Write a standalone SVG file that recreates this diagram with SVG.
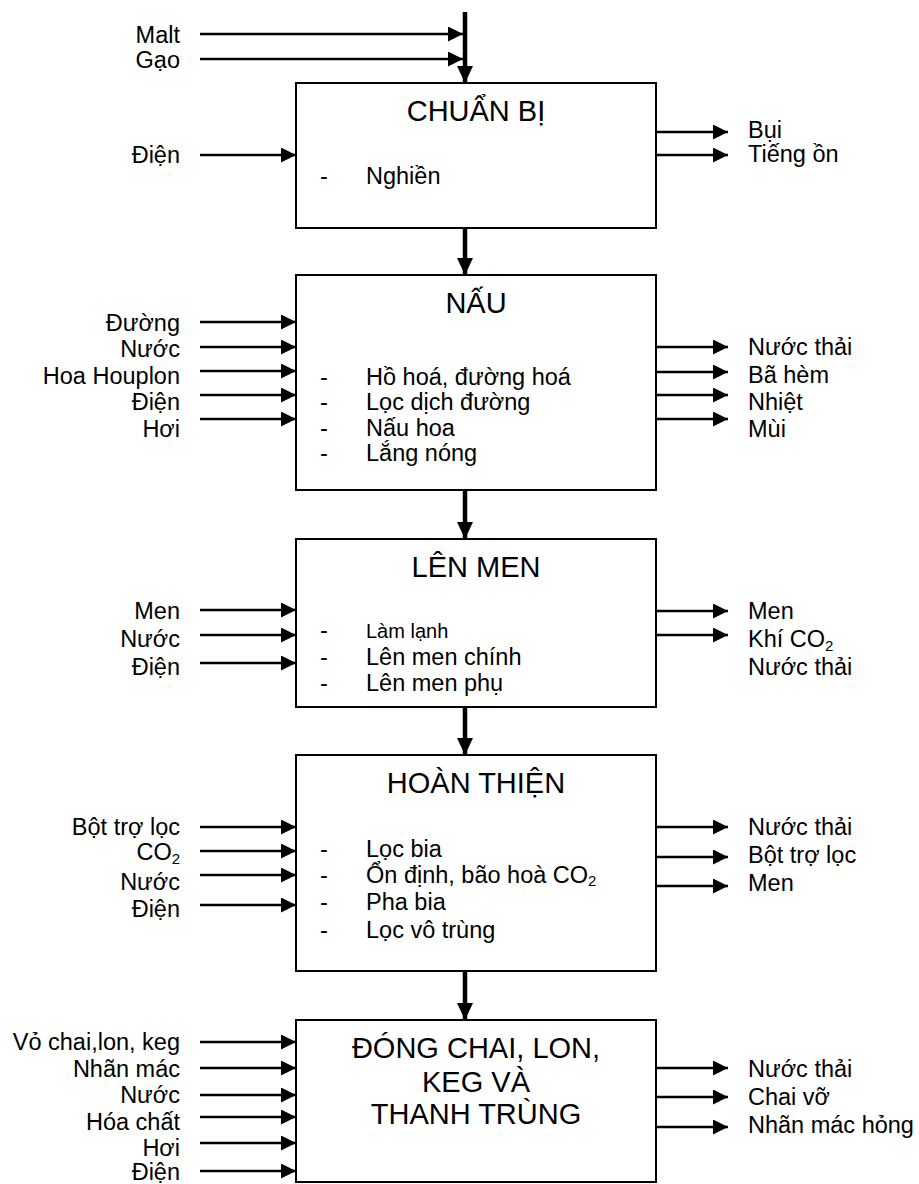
<svg xmlns="http://www.w3.org/2000/svg" width="919" height="1184" viewBox="0 0 919 1184">
<style>
text{font-family:"Liberation Sans",Arial,sans-serif;fill:#000}
.lbl{font-size:23.5px}
.in{text-anchor:end}
.ttl{font-size:29px;text-anchor:middle}
.box{fill:#fff;stroke:#000;stroke-width:2}
.thin{stroke:#000;stroke-width:2.6;fill:none;marker-end:url(#ah)}
.thick{stroke:#000;stroke-width:4.5;fill:none;marker-end:url(#ahb)}
.sm{font-size:20px}
</style>
<defs>
<marker id="ah" markerUnits="userSpaceOnUse" markerWidth="16" markerHeight="16" refX="15" refY="7.5" orient="auto" viewBox="0 0 16 16"><path d="M0,0 L15,7.5 L0,15 z" fill="#000"/></marker>
<marker id="ahb" markerUnits="userSpaceOnUse" markerWidth="18" markerHeight="18" refX="17" refY="8" orient="auto" viewBox="0 0 18 18"><path d="M0,0 L17,8 L0,16 z" fill="#000"/></marker>
</defs>
<rect width="919" height="1184" fill="#fff"/>

<g id="connectors">
<line x1="465" y1="12" x2="465" y2="83" class="thick"/>
<line x1="200" y1="34" x2="463" y2="34" class="thin"/>
<line x1="200" y1="59" x2="463" y2="59" class="thin"/>
<line x1="200" y1="155" x2="296" y2="155" class="thin"/>
<line x1="656" y1="132" x2="728" y2="132" class="thin"/>
<line x1="656" y1="155" x2="728" y2="155" class="thin"/>
<line x1="465" y1="228" x2="465" y2="275" class="thick"/>

<line x1="200" y1="322" x2="296" y2="322" class="thin"/>
<line x1="200" y1="347" x2="296" y2="347" class="thin"/>
<line x1="200" y1="371" x2="296" y2="371" class="thin"/>
<line x1="200" y1="395" x2="296" y2="395" class="thin"/>
<line x1="200" y1="419" x2="296" y2="419" class="thin"/>
<line x1="656" y1="347" x2="728" y2="347" class="thin"/>
<line x1="656" y1="372" x2="728" y2="372" class="thin"/>
<line x1="656" y1="395" x2="728" y2="395" class="thin"/>
<line x1="656" y1="419" x2="728" y2="419" class="thin"/>
<line x1="465" y1="490" x2="465" y2="539" class="thick"/>

<line x1="200" y1="610" x2="296" y2="610" class="thin"/>
<line x1="200" y1="635" x2="296" y2="635" class="thin"/>
<line x1="200" y1="663" x2="296" y2="663" class="thin"/>
<line x1="656" y1="611" x2="728" y2="611" class="thin"/>
<line x1="656" y1="635" x2="728" y2="635" class="thin"/>
<line x1="465" y1="707" x2="465" y2="755" class="thick"/>

<line x1="200" y1="827" x2="296" y2="827" class="thin"/>
<line x1="200" y1="851" x2="296" y2="851" class="thin"/>
<line x1="200" y1="875" x2="296" y2="875" class="thin"/>
<line x1="200" y1="905" x2="296" y2="905" class="thin"/>
<line x1="656" y1="827" x2="728" y2="827" class="thin"/>
<line x1="656" y1="857" x2="728" y2="857" class="thin"/>
<line x1="656" y1="886" x2="728" y2="886" class="thin"/>
<line x1="465" y1="971" x2="465" y2="1020" class="thick"/>

<line x1="200" y1="1042" x2="296" y2="1042" class="thin"/>
<line x1="200" y1="1068" x2="296" y2="1068" class="thin"/>
<line x1="200" y1="1095" x2="296" y2="1095" class="thin"/>
<line x1="200" y1="1117" x2="296" y2="1117" class="thin"/>
<line x1="200" y1="1143" x2="296" y2="1143" class="thin"/>
<line x1="200" y1="1171" x2="296" y2="1171" class="thin"/>
<line x1="656" y1="1068" x2="728" y2="1068" class="thin"/>
<line x1="656" y1="1097" x2="728" y2="1097" class="thin"/>
<line x1="656" y1="1127" x2="728" y2="1127" class="thin"/>
</g>

<g id="inputs1">
<text class="lbl in" x="180" y="43">Malt</text>
<text class="lbl in" x="180" y="68">Gạo</text>
<text class="lbl in" x="180" y="163">Điện</text>
</g>
<g id="chuan-bi">
<rect class="box" x="296" y="83" width="360" height="145"/>
<text class="ttl" x="476" y="121">CHUẨN BỊ</text>
<text class="lbl" x="320" y="184">-</text>
<text class="lbl" x="366" y="184">Nghiền</text>
</g>
<g id="outputs1">
<text class="lbl" x="748" y="138">Bụi</text>
<text class="lbl" x="748" y="162">Tiếng ồn</text>
</g>

<g id="inputs2">
<text class="lbl in" x="180" y="331">Đường</text>
<text class="lbl in" x="180" y="357">Nước</text>
<text class="lbl in" x="180" y="384">Hoa Houplon</text>
<text class="lbl in" x="180" y="410">Điện</text>
<text class="lbl in" x="180" y="437">Hơi</text>
</g>
<g id="nau">
<rect class="box" x="296" y="275" width="360" height="215"/>
<text class="ttl" x="476" y="313">NẤU</text>
<text class="lbl" x="320" y="385">-</text><text class="lbl" x="366" y="385">Hồ hoá, đường hoá</text>
<text class="lbl" x="320" y="410">-</text><text class="lbl" x="366" y="410">Lọc dịch đường</text>
<text class="lbl" x="320" y="436">-</text><text class="lbl" x="366" y="436">Nấu hoa</text>
<text class="lbl" x="320" y="461">-</text><text class="lbl" x="366" y="461">Lắng nóng</text>
</g>
<g id="outputs2">
<text class="lbl" x="748" y="355">Nước thải</text>
<text class="lbl" x="748" y="383">Bã hèm</text>
<text class="lbl" x="748" y="410">Nhiệt</text>
<text class="lbl" x="748" y="437">Mùi</text>
</g>

<g id="inputs3">
<text class="lbl in" x="180" y="619">Men</text>
<text class="lbl in" x="180" y="647">Nước</text>
<text class="lbl in" x="180" y="675">Điện</text>
</g>
<g id="len-men">
<rect class="box" x="296" y="539" width="360" height="168"/>
<text class="ttl" x="476" y="577">LÊN MEN</text>
<text class="lbl" x="320" y="638">-</text><text class="sm" x="366" y="638">Làm lạnh</text>
<text class="lbl" x="320" y="665">-</text><text class="lbl" x="366" y="665">Lên men chính</text>
<text class="lbl" x="320" y="691">-</text><text class="lbl" x="366" y="691">Lên men phụ</text>
</g>
<g id="outputs3">
<text class="lbl" x="748" y="619">Men</text>
<text class="lbl" x="748" y="647">Khí CO<tspan font-size="15" dy="4">2</tspan></text>
<text class="lbl" x="748" y="675">Nước thải</text>
</g>

<g id="inputs4">
<text class="lbl in" x="180" y="835">Bột trợ lọc</text>
<text class="lbl in" x="180" y="860">CO<tspan font-size="15" dy="4">2</tspan></text>
<text class="lbl in" x="180" y="890">Nước</text>
<text class="lbl in" x="180" y="917">Điện</text>
</g>
<g id="hoan-thien">
<rect class="box" x="296" y="755" width="360" height="216"/>
<text class="ttl" x="476" y="793">HOÀN THIỆN</text>
<text class="lbl" x="320" y="857">-</text><text class="lbl" x="366" y="857">Lọc bia</text>
<text class="lbl" x="320" y="883">-</text><text class="lbl" x="366" y="883">Ổn định, bão hoà CO<tspan font-size="15" dy="3">2</tspan></text>
<text class="lbl" x="320" y="910">-</text><text class="lbl" x="366" y="910">Pha bia</text>
<text class="lbl" x="320" y="938">-</text><text class="lbl" x="366" y="938">Lọc vô trùng</text>
</g>
<g id="outputs4">
<text class="lbl" x="748" y="835">Nước thải</text>
<text class="lbl" x="748" y="863">Bột trợ lọc</text>
<text class="lbl" x="748" y="891">Men</text>
</g>

<g id="inputs5">
<text class="lbl in" x="180" y="1050">Vỏ chai,lon, keg</text>
<text class="lbl in" x="180" y="1077">Nhãn mác</text>
<text class="lbl in" x="180" y="1103">Nước</text>
<text class="lbl in" x="180" y="1130">Hóa chất</text>
<text class="lbl in" x="180" y="1156">Hơi</text>
<text class="lbl in" x="180" y="1180">Điện</text>
</g>
<g id="dong-chai">
<rect class="box" x="296" y="1020" width="360" height="162"/>
<text class="ttl" x="476" y="1058">ĐÓNG CHAI, LON,</text>
<text class="ttl" x="476" y="1092">KEG VÀ</text>
<text class="ttl" x="476" y="1124">THANH TRÙNG</text>
</g>
<g id="outputs5">
<text class="lbl" x="748" y="1077">Nước thải</text>
<text class="lbl" x="748" y="1105">Chai vỡ</text>
<text class="lbl" x="748" y="1133">Nhãn mác hỏng</text>
</g>
</svg>
